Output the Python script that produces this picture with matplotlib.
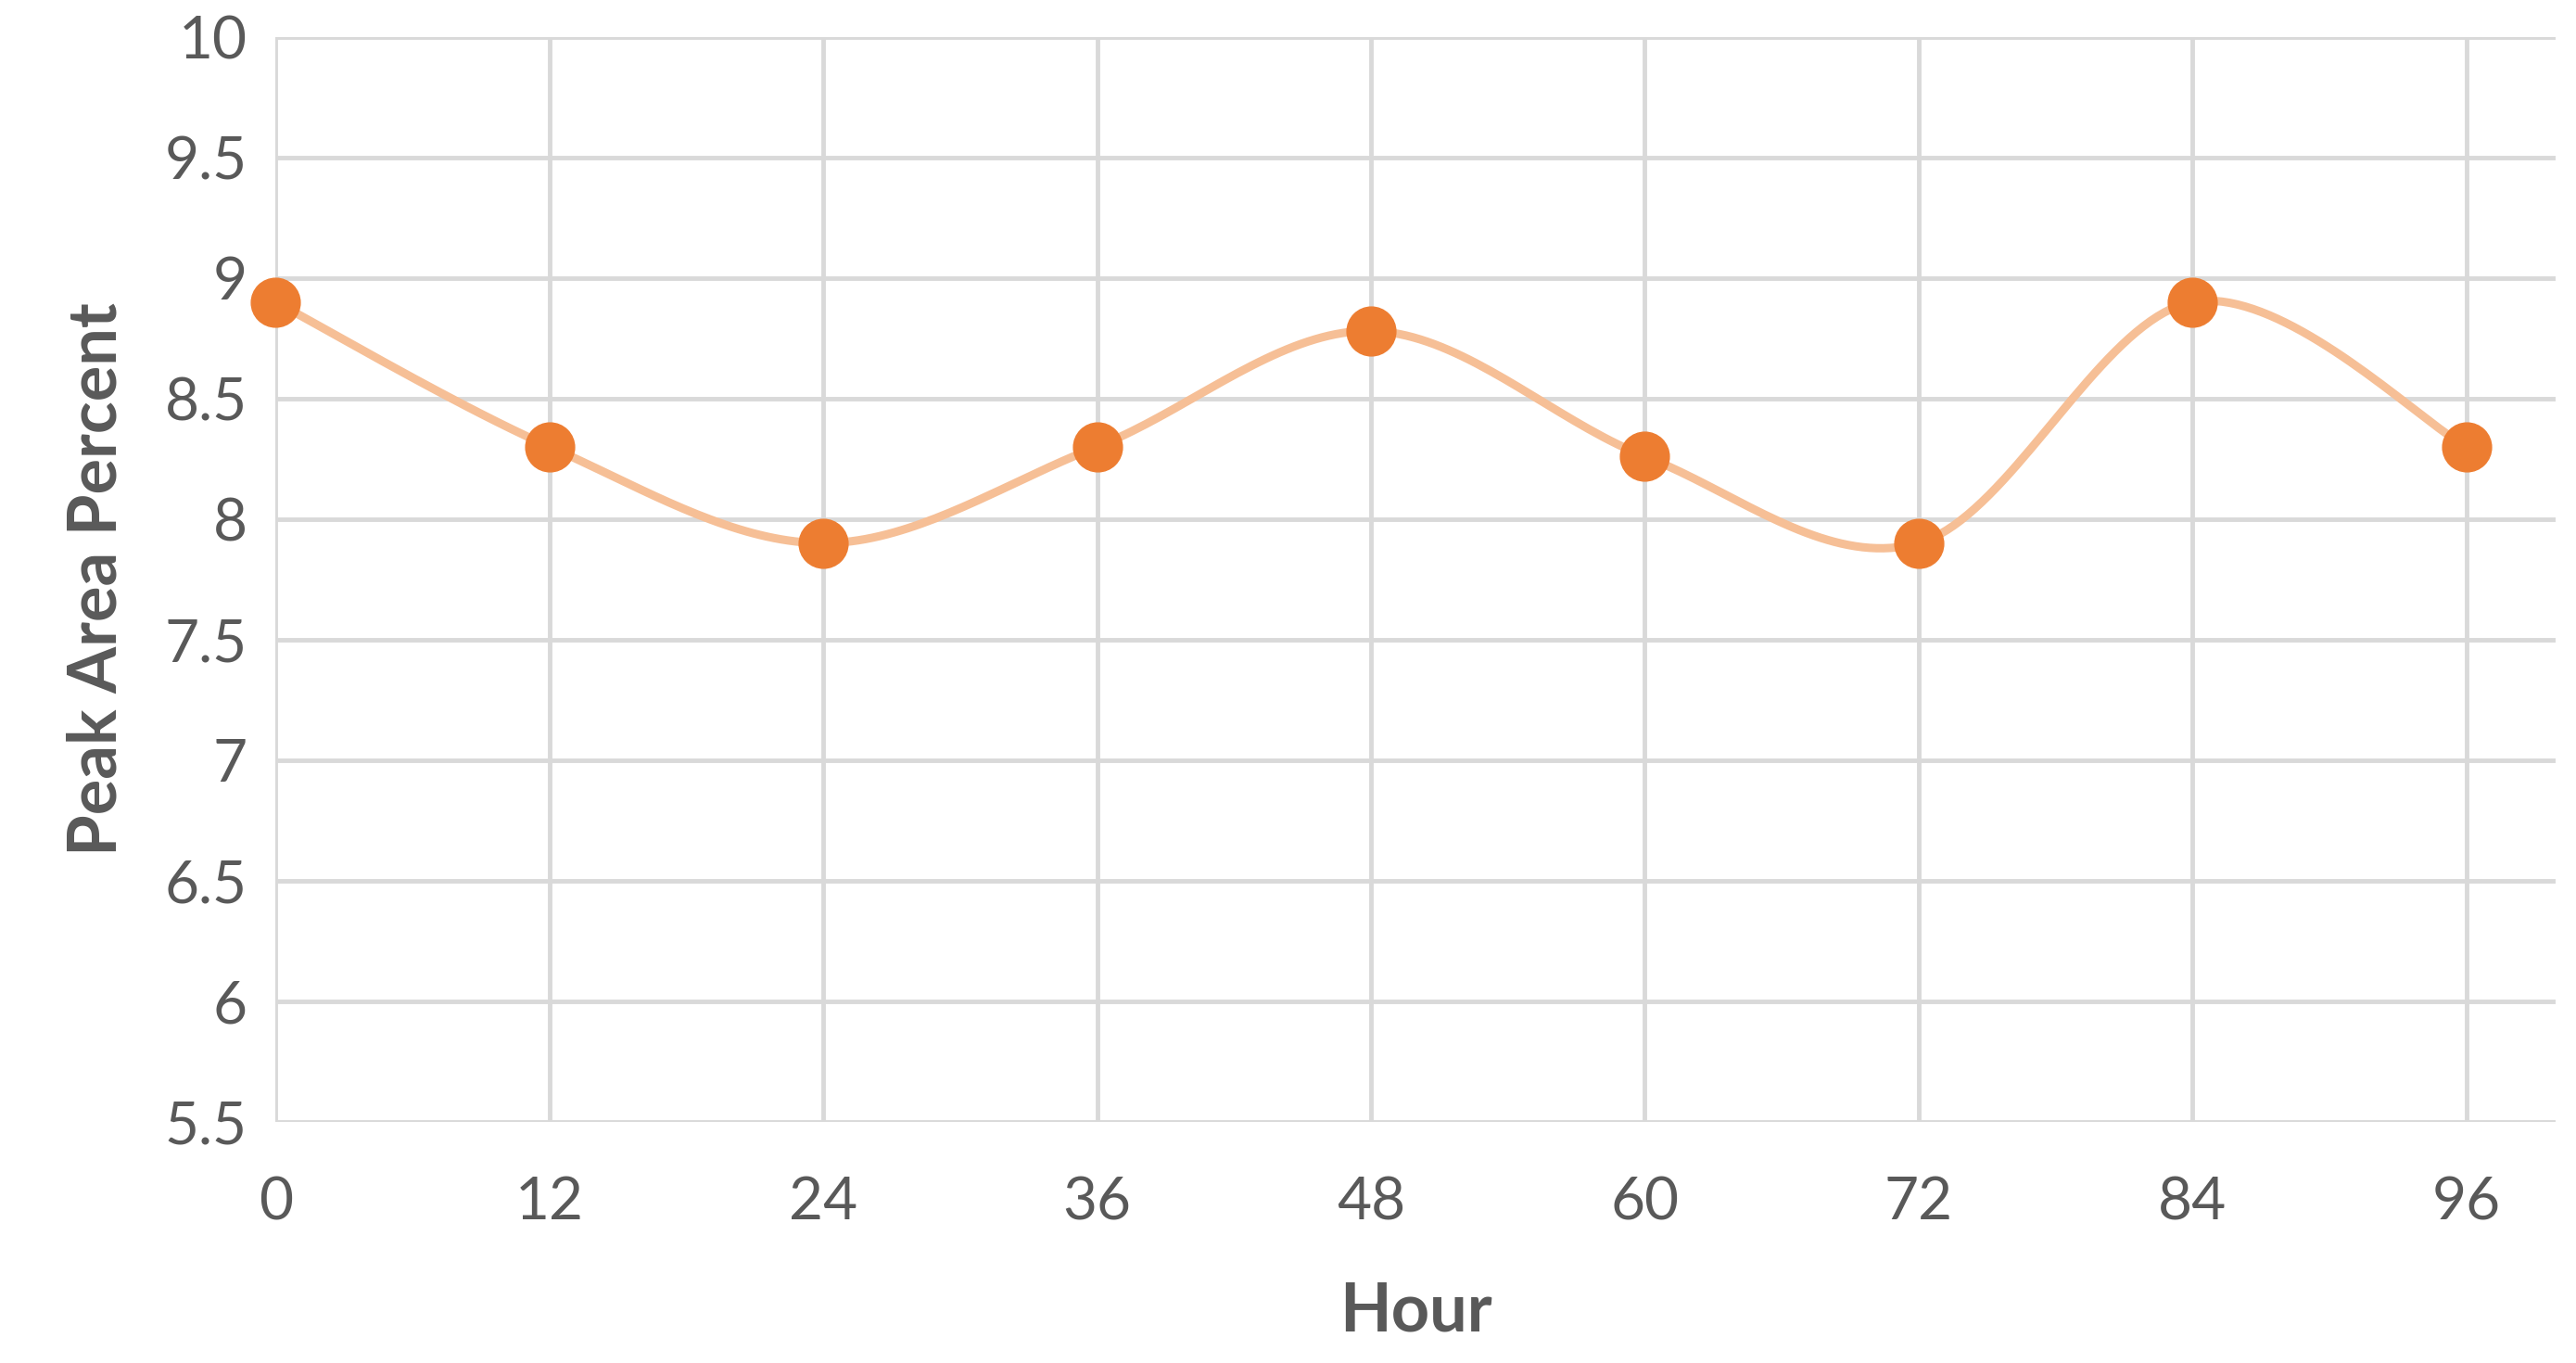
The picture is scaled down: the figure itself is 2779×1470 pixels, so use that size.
import numpy as np
import matplotlib.pyplot as plt

plt.rcParams['font.family'] = ['Lato', 'DejaVu Sans']

hours = [0, 12, 24, 36, 48, 60, 72, 84, 96]
peak = [8.9, 8.3, 7.9, 8.3, 8.78, 8.26, 7.9, 8.9, 8.3]


# smooth line like Excel (Catmull-Rom through the points)
def smooth(x, y, n=40):
    x = np.asarray(x, float)
    y = np.asarray(y, float)
    px = np.concatenate([[x[0]], x, [x[-1]]])
    py = np.concatenate([[y[0]], y, [y[-1]]])
    xs, ys = [], []
    t = np.linspace(0, 1, n)
    for i in range(1, len(px) - 2):
        p0, p1, p2, p3 = [np.array([px[j], py[j]]) for j in range(i - 1, i + 3)]
        c1 = p1 + (p2 - p0) / 6
        c2 = p2 - (p3 - p1) / 6
        pts = ((1 - t) ** 3)[:, None] * p1 + (3 * (1 - t) ** 2 * t)[:, None] * c1 \
            + (3 * (1 - t) * t ** 2)[:, None] * c2 + (t ** 3)[:, None] * p2
        xs.extend(pts[:, 0])
        ys.extend(pts[:, 1])
    return xs, ys


fig = plt.figure(figsize=(27.79, 14.70), dpi=100)
ax = fig.add_axes([0.107, 0.177, 0.885, 0.796])

sx, sy = smooth(hours, peak)
ax.plot(sx, sy, color='#f6bf96', lw=6.5, zorder=3, solid_capstyle='round', clip_on=False)
ax.plot(hours, peak, 'o', color='#ed7d31', markersize=38, zorder=4, clip_on=False)

ax.set_xlim(0, 99.9)
ax.set_ylim(5.5, 10)
ax.set_xticks(hours)
ax.set_yticks(np.arange(5.5, 10.01, 0.5))
ax.set_yticklabels(['5.5', '6', '6.5', '7', '7.5', '8', '8.5', '9', '9.5', '10'])
ax.grid(True, color='#d9d9d9', lw=3.5)
ax.set_axisbelow(True)
for s in ax.spines.values():
    s.set_visible(False)
ax.tick_params(axis='y', length=0, labelsize=46, colors='#595959', pad=22)
ax.tick_params(axis='x', length=0, labelsize=46, colors='#595959', pad=42)
ax.set_xlabel('Hour', fontsize=52, fontweight='bold', color='#595959', labelpad=40)
ax.set_ylabel('Peak Area Percent', fontsize=52, fontweight='bold', color='#595959', labelpad=28)

fig.savefig('out.png')
